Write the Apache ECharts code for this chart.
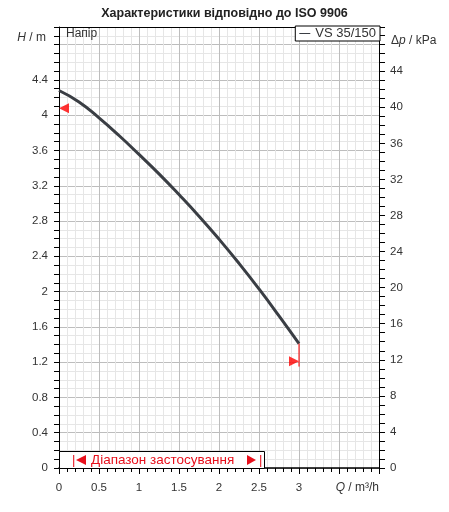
<!DOCTYPE html>
<html>
<head>
<meta charset="utf-8">
<script src="https://cdn.jsdelivr.net/npm/echarts@6/dist/echarts.min.js"></script>
<style>
  html, body { margin: 0; padding: 0; background: #fff; }
  #pump_chart { width: 449px; height: 512px; }
</style>
</head>
<body>
<div id="pump_chart"></div>
<script>
// дані кривої (Q, м³/год -> H, м)
const flowQ = [0, 0.25, 0.5, 0.75, 1, 1.25, 1.5, 1.75, 2, 2.25, 2.5, 2.75, 3];
const headH = [4.28, 4.15, 3.97, 3.77, 3.555, 3.335, 3.1, 2.855, 2.595, 2.32, 2.03, 1.725, 1.41];
// межі діапазону застосування
const rangeStart = [0, 4.08];
const rangeEnd = [3, 1.21];
const rangeEndLine = [[3, 1.41], [3, 1.15]];
const xTicks = [0, 0.5, 1, 1.5, 2, 2.5, 3];
const hMax = 5;
const kpaMax = 48.9;

const FONT = "Liberation Sans, Arial, sans-serif";
const RED = "#e8101c";
const chart = echarts.init(document.getElementById("pump_chart"));

const curveData = flowQ.map((q, i) => [q, headH[i]]);

const option = {
  animation: false,
  backgroundColor: "#fff",
  title: {
    text: "Характеристики відповідно до ISO 9906",
    left: "center",
    top: 7,
    padding: 0,
    textStyle: { fontSize: 12.5, fontWeight: "bold", color: "#222", fontFamily: FONT },
  },
  legend: {
    data: ["VS 35/150"],
    right: 69,
    top: 26,
    padding: [1, 4, 1, 4],
    borderColor: "#000",
    borderWidth: 1,
    backgroundColor: "#fff",
    icon: "rect",
    itemWidth: 11,
    itemHeight: 1,
    itemGap: 4,
    textStyle: { fontSize: 13, color: "#333", fontFamily: FONT },
  },
  grid: { left: 59, right: 70, top: 27, bottom: 44, containLabel: false },
  xAxis: [
    {
      type: "value",
      min: 0,
      max: 4,
      interval: 0.5,
      axisLine: { show: true, onZero: false, lineStyle: { color: "#000", width: 1.5 } },
      axisTick: { show: true, length: 6, lineStyle: { color: "#000" } },
      minorTick: { show: true, splitNumber: 5, length: 4, lineStyle: { color: "#000" } },
      axisLabel: {
        margin: 14,
        fontSize: 11.5,
        color: "#333",
        fontFamily: FONT,
        formatter: (v) => (xTicks.includes(v) ? String(v) : ""),
      },
      splitLine: { show: true, lineStyle: { color: "#bdbdbd" } },
      minorSplitLine: { show: true, lineStyle: { color: "#e6e6e6" } },
    },
    {
      type: "value",
      position: "top",
      min: 0,
      max: 4,
      axisLine: { show: true, onZero: false, lineStyle: { color: "#000" } },
      axisTick: { show: false },
      axisLabel: { show: false },
      splitLine: { show: false },
    },
  ],
  yAxis: [
    {
      type: "value",
      position: "left",
      min: 0,
      max: hMax,
      interval: 0.4,
      axisLine: { show: true, onZero: false, lineStyle: { color: "#000" } },
      axisTick: { show: true, length: 5, lineStyle: { color: "#000" } },
      minorTick: { show: true, splitNumber: 4, length: 5, lineStyle: { color: "#000" } },
      axisLabel: {
        margin: 11,
        fontSize: 11.5,
        color: "#333",
        fontFamily: FONT,
        formatter: (v) => (v > 4.5 ? "" : String(v)),
      },
      splitLine: { show: true, lineStyle: { color: "#bdbdbd" } },
      minorSplitLine: { show: true, lineStyle: { color: "#e6e6e6" } },
    },
    {
      type: "value",
      position: "right",
      min: 0,
      max: kpaMax,
      interval: 4,
      axisLine: { show: true, onZero: false, lineStyle: { color: "#000" } },
      axisTick: { show: true, length: 6, lineStyle: { color: "#000" } },
      minorTick: { show: true, splitNumber: 4, length: 6, lineStyle: { color: "#000" } },
      axisLabel: {
        margin: 11,
        fontSize: 11.5,
        color: "#333",
        fontFamily: FONT,
        formatter: (v) => (v > 45 ? "" : String(v)),
      },
      splitLine: { show: false },
    },
  ],
  series: [
    {
      name: "VS 35/150",
      type: "line",
      data: curveData,
      smooth: 0.5,
      showSymbol: false,
      z: 5,
      itemStyle: { color: "#3a3e44" },
      lineStyle: { color: "#3a3e44", width: 3 },
    },
    {
      name: "min",
      type: "scatter",
      data: [rangeStart],
      symbol: "triangle",
      symbolRotate: 90,
      symbolSize: [10, 10],
      symbolOffset: [5, 0],
      itemStyle: { color: "#ff0000" },
      z: 6,
    },
    {
      name: "max",
      type: "scatter",
      data: [rangeEnd],
      symbol: "triangle",
      symbolRotate: -90,
      symbolSize: [10, 10],
      symbolOffset: [-5, 0],
      itemStyle: { color: "#ff0000" },
      z: 6,
    },
    {
      name: "maxLine",
      type: "line",
      data: rangeEndLine,
      showSymbol: false,
      lineStyle: { color: "#ff0000", width: 1 },
      z: 6,
    },
  ],
  graphic: [
    {
      type: "text",
      left: 66,
      top: 28,
      z: 100,
      style: { text: "Напір", fontSize: 12, fill: "#333", fontFamily: FONT },
    },
    {
      type: "text",
      x: 46,
      y: 38,
      style: {
        text: "{i|H} / m",
        align: "right",
        verticalAlign: "middle",
        fontSize: 12,
        fill: "#333",
        fontFamily: FONT,
        rich: { i: { fontStyle: "italic", fontSize: 12, fill: "#333", fontFamily: FONT } },
      },
    },
    {
      type: "text",
      x: 391,
      y: 41,
      style: {
        text: "Δ{i|p} / kPa",
        align: "left",
        verticalAlign: "middle",
        fontSize: 12,
        fill: "#333",
        fontFamily: FONT,
        rich: { i: { fontStyle: "italic", fontSize: 12, fill: "#333", fontFamily: FONT } },
      },
    },
    {
      type: "text",
      x: 379,
      y: 488,
      style: {
        text: "{i|Q} / m³/h",
        align: "right",
        verticalAlign: "middle",
        fontSize: 12,
        fill: "#333",
        fontFamily: FONT,
        rich: { i: { fontStyle: "italic", fontSize: 12, fill: "#333", fontFamily: FONT } },
      },
    },
    // рамка "Діапазон застосування"
    {
      type: "rect",
      z: 100,
      shape: { x: 59.5, y: 451.5, width: 205, height: 17 },
      style: { fill: "#fff", stroke: "#000", lineWidth: 1 },
    },
    {
      type: "text",
      z: 101,
      x: 72,
      y: 460,
      style: { text: "|", verticalAlign: "middle", fontSize: 13, fill: RED, fontFamily: FONT },
    },
    {
      type: "polygon",
      z: 101,
      shape: { points: [[76, 460], [86, 455], [86, 465]] },
      style: { fill: RED },
    },
    {
      type: "text",
      z: 101,
      x: 91,
      y: 460,
      style: {
        text: "Діапазон застосування",
        verticalAlign: "middle",
        fontSize: 13.5,
        fill: RED,
        fontFamily: FONT,
      },
    },
    {
      type: "polygon",
      z: 101,
      shape: { points: [[256, 460], [247, 455], [247, 465]] },
      style: { fill: RED },
    },
    {
      type: "text",
      z: 101,
      x: 259,
      y: 460,
      style: { text: "|", verticalAlign: "middle", fontSize: 13, fill: RED, fontFamily: FONT },
    },
  ],
};

chart.setOption(option);
</script>
</body>
</html>
